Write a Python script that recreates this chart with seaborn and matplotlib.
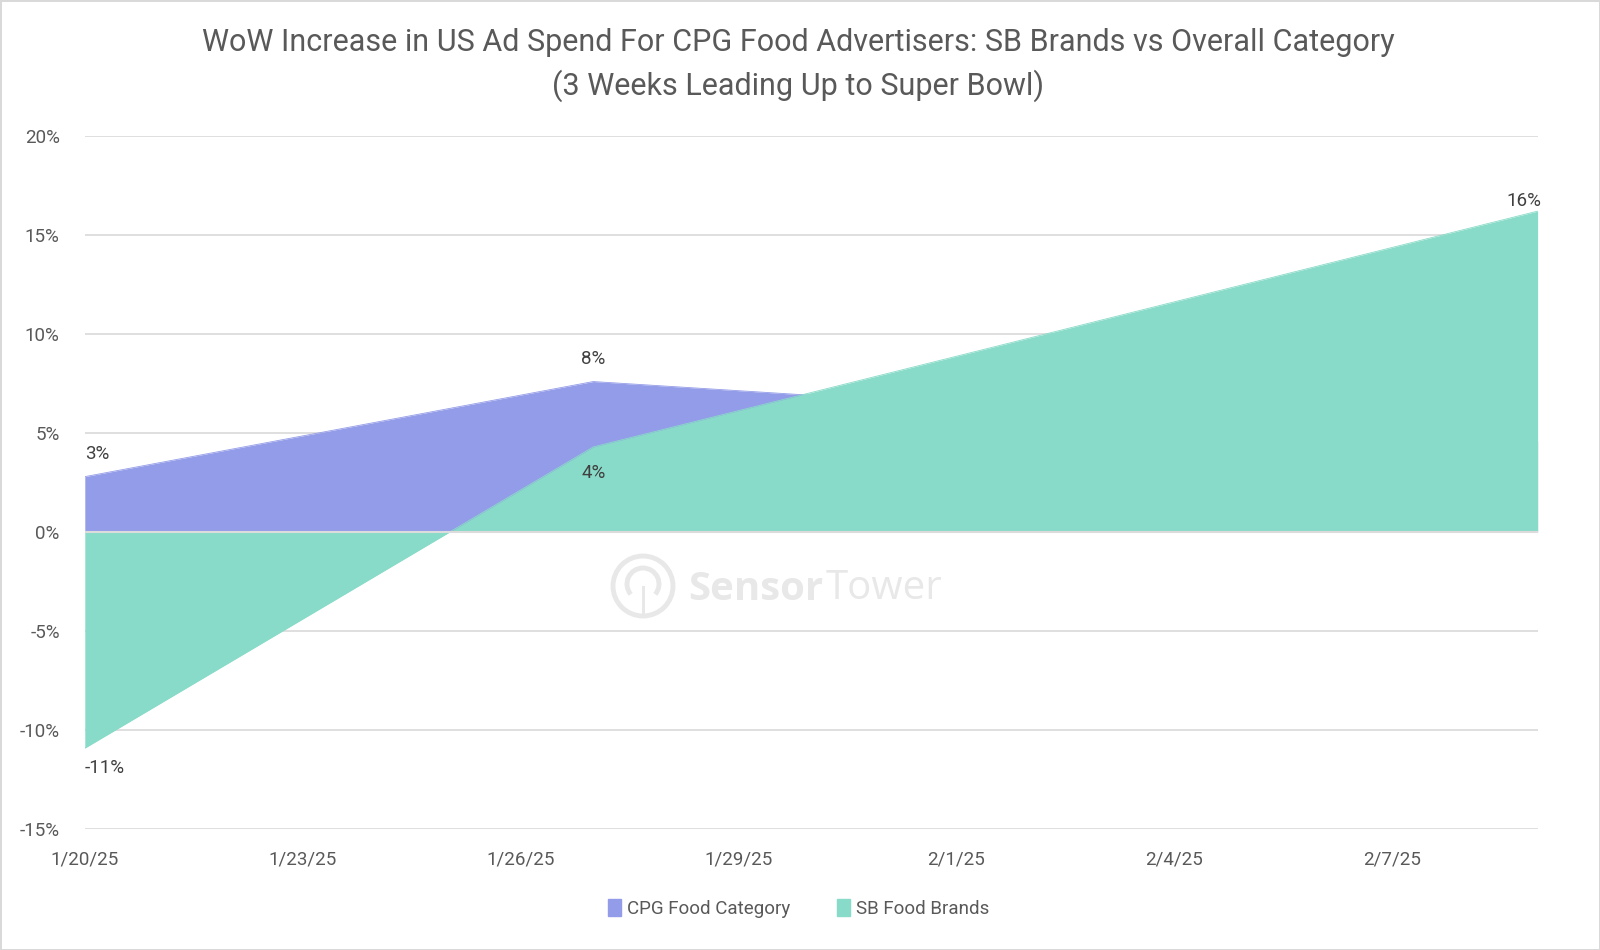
import matplotlib
matplotlib.use("Agg")
import matplotlib.pyplot as plt
import matplotlib.patches as mpatches
from matplotlib.ticker import FuncFormatter
import seaborn as sns
import pandas as pd

# data
dates = pd.to_datetime(["2025-01-20", "2025-01-27", "2025-02-09"])
cpg_food = [2.8, 7.6, 4.6]      # CPG Food Category, % WoW
sb_food = [-10.9, 4.3, 16.2]    # SB Food Brands, % WoW
series_names = ["CPG Food Category", "SB Food Brands"]
tick_dates = pd.date_range("2025-01-20", "2025-02-07", freq="3D")

cpg_color = "#939CE8"
sb_color = "#88DBC8"
txt = "#595959"

sns.set_theme(style="white")
plt.rcParams["font.family"] = ["Roboto", "DejaVu Sans"]

df_cpg = pd.DataFrame({"date": dates, "value": cpg_food})
df_sb = pd.DataFrame({"date": dates, "value": sb_food})

fig = plt.figure(figsize=(16, 9.5), dpi=100)
fig.patch.set_edgecolor("#D9D9D9")
fig.patch.set_linewidth(2)
ax = fig.add_axes([0.053, 0.127, 0.908, 0.730])

# gridlines
for v in range(-15, 21, 5):
    ax.axhline(v, color="#D9D9D9", lw=1.2, zorder=0)

# CPG area first, SB area on top of it
ax.fill_between(dates, 0, cpg_food, color=cpg_color, lw=0, zorder=1)
sns.lineplot(data=df_cpg, x="date", y="value", color=cpg_color, lw=0.6, ax=ax, zorder=1)
ax.fill_between(dates, 0, sb_food, color=sb_color, lw=0, zorder=2)
sns.lineplot(data=df_sb, x="date", y="value", color=sb_color, lw=0.6, ax=ax, zorder=2)
ax.axhline(0, color="#DCDCDC", lw=1.5, zorder=3)

ax.set_xlim(dates[0], dates[-1])
ax.set_ylim(-15, 20)
ax.set_yticks(range(-15, 21, 5))
ax.yaxis.set_major_formatter(FuncFormatter(lambda v, p: f"{v:.0f}%"))
ax.set_xticks(tick_dates)
ax.set_xticklabels([f"{d.month}/{d.day}/{d:%y}" for d in tick_dates])
ax.tick_params(axis="both", labelsize=13.5, colors=txt, length=0)
ax.tick_params(axis="x", pad=15)
ax.tick_params(axis="y", pad=18)
ax.set_xlabel("")
ax.set_ylabel("")
for s in ax.spines.values():
    s.set_visible(False)

# data labels
lab = dict(textcoords="offset points", fontsize=13.5, color="#404040", zorder=5)
ax.annotate(f"{cpg_food[0]:.0f}%", (dates[0], cpg_food[0]), xytext=(0, 10), ha="left", va="bottom", **lab)
ax.annotate(f"{cpg_food[1]:.0f}%", (dates[1], cpg_food[1]), xytext=(0, 10), ha="center", va="bottom", **lab)
ax.annotate(f"{sb_food[0]:.0f}%", (dates[0], sb_food[0]), xytext=(0, -8), ha="left", va="top", **lab)
ax.annotate(f"{sb_food[1]:.0f}%", (dates[1], sb_food[1]), xytext=(0, -12), ha="center", va="top", **lab)
ax.annotate(f"{sb_food[2]:.0f}%", (dates[2], sb_food[2]), xytext=(-10, 1), ha="center", va="bottom", **lab)

# title
fig.text(0.499, 0.955, "WoW Increase in US Ad Spend For CPG Food Advertisers: SB Brands vs Overall Category",
         ha="center", va="center", fontsize=22, color=txt)
fig.text(0.499, 0.910, "(3 Weeks Leading Up to Super Bowl)",
         ha="center", va="center", fontsize=22, color=txt)

# watermark
wm = "#E8E8E8"
fig.patches.append(mpatches.Circle((6.43, 3.64), 0.30, transform=fig.dpi_scale_trans,
                                   fill=False, ec=wm, lw=3.5, zorder=0))
fig.patches.append(mpatches.Arc((6.43, 3.66), 0.32, 0.32, theta1=-40, theta2=220,
                                transform=fig.dpi_scale_trans, ec=wm, lw=3.5, zorder=0))
fig.patches.append(mpatches.Rectangle((6.415, 3.36), 0.03, 0.28, transform=fig.dpi_scale_trans,
                                      fc=wm, ec="none", zorder=0))
fig.text(0.430, 0.380, "Sensor", ha="left", va="center", fontsize=29, fontweight="bold",
         color=wm, family=["Open Sans", "DejaVu Sans"], zorder=0)
fig.text(0.516, 0.380, "Tower", ha="left", va="center", fontsize=29,
         color=wm, family=["Open Sans", "DejaVu Sans"], zorder=0)

# legend
handles = [mpatches.Patch(color=cpg_color, label=series_names[0]),
           mpatches.Patch(color=sb_color, label=series_names[1])]
fig.legend(handles=handles, loc="center", bbox_to_anchor=(0.499, 0.044), ncol=2, frameon=False,
           fontsize=13.5, labelcolor=txt, handlelength=0.7, handleheight=1.0,
           handletextpad=0.3, columnspacing=2.5)

fig.savefig("out.png", dpi=100, edgecolor=fig.get_edgecolor())
